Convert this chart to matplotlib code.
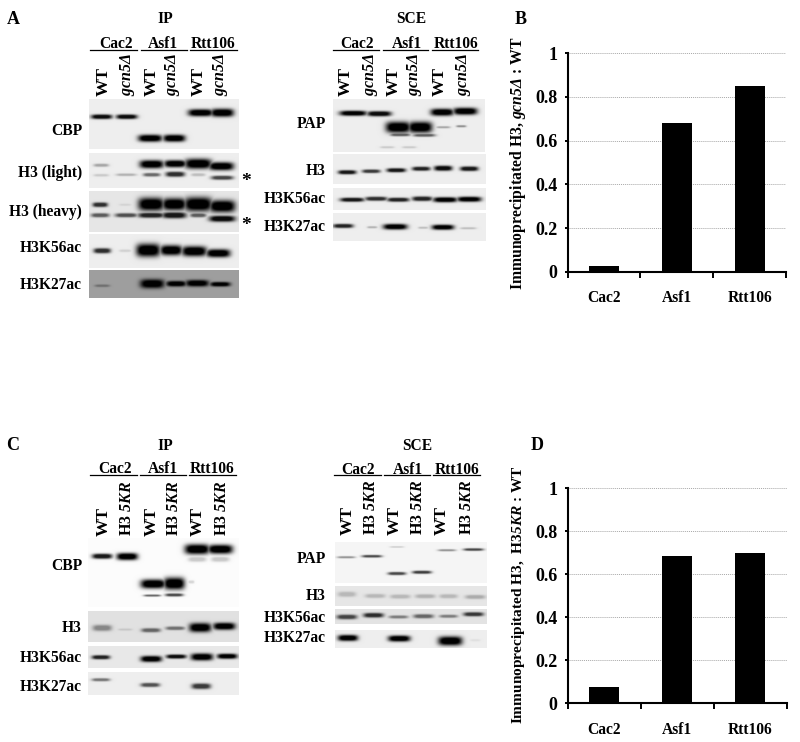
import numpy as np
import matplotlib
matplotlib.use("Agg")
import matplotlib.pyplot as plt

plt.rcParams["font.family"] = ["Liberation Serif", "DejaVu Serif"]
plt.rcParams["font.weight"] = "bold"
plt.rcParams["mathtext.fontset"] = "custom"
plt.rcParams["mathtext.rm"] = "Liberation Serif:bold"
plt.rcParams["mathtext.bfit"] = "Liberation Serif:italic:bold"
plt.rcParams["mathtext.default"] = "regular"

categories = ["Cac2", "Asf1", "Rtt106"]
ratio_gcn5 = [0.025, 0.68, 0.85]
ratio_5kr = [0.075, 0.685, 0.70]
y_ticks = [0, 0.2, 0.4, 0.6, 0.8, 1]
y_tick_labels = ["0", "0.2", "0.4", "0.6", "0.8", "1"]

# blots: (x, y, width, height, darkness) in image pixels
a_ip_cbp = [(101.5, 116.5, 21, 4.5, .95), (126.5, 116.5, 21, 4.5, .95), (150, 138, 24, 7, 1),
            (174, 138, 22, 7, 1), (200.5, 112.5, 25, 7, 1), (222, 112.5, 23, 8, 1)]
a_ip_light = [(101, 165, 15, 3, .3), (101, 175, 15, 2.5, .15), (126, 174.5, 20, 2.5, .25),
              (151.5, 164, 24, 8, 1), (151.5, 174.5, 17, 3.5, .55), (175, 163.5, 22, 7, 1),
              (175, 174, 19, 5, .8), (198, 163.5, 27, 10, 1), (198, 174.5, 14, 3, .2),
              (221, 166, 25, 8, 1), (222, 177.5, 22, 4, .7)]
a_ip_heavy = [(100, 204.5, 15, 4.5, .8), (100, 215, 18, 4, .6), (125, 204.5, 12, 2, .08),
              (126, 215, 22, 4, .65), (151, 204, 26, 13, 1), (151, 215, 26, 5, .85),
              (174, 204, 24, 12, 1), (174, 215, 24, 6, .9), (198, 204, 28, 14, 1),
              (198, 215, 16, 4, .6), (222, 206, 26, 12, 1), (222, 218.5, 26, 6, .95)]
a_ip_k56 = [(102, 250.5, 17, 5, .8), (125, 250.5, 12, 2.5, .12), (148, 250, 24, 13, 1),
            (171, 250, 22, 10, 1), (194, 251, 25, 10, 1), (218, 253, 24, 8, 1)]
a_ip_k27 = [(102, 285.5, 15, 2.5, .3), (152, 283.5, 24, 9, 1), (176, 283.5, 20, 5.5, 1),
            (197, 283, 23, 6.5, 1), (220, 284, 20, 4.5, 1)]

a_sce_pap = [(353, 113, 27, 5, 1), (379, 113.5, 24, 5, .95), (398, 127, 25, 11, 1), (420, 127, 24, 11, 1),
             (400, 134.5, 20, 3, .6), (424, 135, 22, 3, .6), (442, 112, 23, 7, 1), (465, 111, 24, 7, 1),
             (443, 127, 14, 2, .3), (461, 126, 10, 2, .4), (387, 147, 14, 2, .15), (409, 147, 14, 2, .15)]
a_sce_h3 = [(347, 172, 18, 4, .9), (371, 171, 18, 3.5, .75), (396, 170, 19, 4, .9),
            (421, 168.5, 18, 4, .85), (443, 168, 18, 5, .95), (469, 168.5, 18, 4.5, .9)]
a_sce_k56 = [(352, 199.5, 24, 4, .9), (376, 198.5, 22, 4, .8), (398, 199.5, 22, 4, .85),
             (422, 198.5, 20, 4.5, .85), (445, 199.5, 24, 5, 1), (469, 199, 24, 5, 1)]
a_sce_k27 = [(343, 225.7, 20, 4, .85), (372, 227, 10, 2, .25), (395, 226.5, 24, 5.5, 1),
             (423, 227.5, 10, 2, .2), (442.7, 227, 22, 5, 1), (468, 228, 16, 2, .2)]

c_ip_cbp = [(102, 556, 20, 5, .9), (127, 556.3, 21, 7, 1), (153, 583.7, 25, 9, 1), (174, 583.3, 21, 12, 1),
            (152, 595.3, 17, 2, .6), (174, 594.7, 18, 3, .7), (197, 549, 25, 10, 1), (220, 549, 25, 9, 1),
            (197, 559, 18, 5, .2), (220, 559, 18, 5, .2), (191, 581.7, 6, 3, .15)]
c_ip_h3 = [(102, 627.7, 19, 6, .4), (125, 629.3, 14, 2, .12), (150.7, 630, 19, 4, .55),
           (175, 628, 19, 3.5, .5), (200, 627.3, 22, 9, 1), (224, 626, 22, 7, 1)]
c_ip_k56 = [(100.7, 657, 18, 4, .85), (151, 658.7, 21, 6, 1), (176, 656.3, 20, 4, .95),
            (201.7, 656.7, 22, 7, 1), (227, 656, 20, 5, 1)]
c_ip_k27 = [(100.7, 679.5, 18, 3, .5), (150, 684.7, 19, 4, .65), (201, 686, 19, 5.5, .75)]

c_sce_pap = [(346, 557, 18, 2, .4), (371.7, 556, 20, 2.5, .7), (396.7, 573.3, 18, 3, .7),
             (421.7, 572, 19, 3, .75), (396.7, 546.7, 14, 1.2, .2), (446.7, 550, 18, 2, .4),
             (473.3, 549.3, 20, 2.5, .7)]
c_sce_h3 = [(346.7, 594, 18, 5, .2), (375, 595.7, 20, 4, .2), (400, 596.3, 20, 4, .2),
            (425, 596, 20, 4, .22), (448.3, 596, 18, 4, .2), (475, 596.7, 20, 4, .25)]
c_sce_k56 = [(346.7, 616.7, 20, 4.5, .7), (373.3, 615, 20, 4.5, .8), (398.3, 616.7, 19, 3, .45),
             (423.3, 616, 20, 4, .55), (448.3, 616, 18, 3, .45), (473.3, 614, 20, 4, .75)]
c_sce_k27 = [(347.7, 637.7, 20, 6, 1), (399, 638.3, 22, 6, 1), (450, 640.7, 24, 9, 1), (475, 640, 10, 2, .06)]

# panel box (x0, y0, x1, y1), background grey, bands
panels = [
    ((89, 99, 239, 149), .93, a_ip_cbp), ((89, 153, 239, 188), .93, a_ip_light),
    ((89, 191, 239, 232), .90, a_ip_heavy), ((89, 234, 239, 268), .93, a_ip_k56),
    ((89, 270, 239, 298), .62, a_ip_k27),
    ((333, 99, 485, 152), .93, a_sce_pap), ((333, 154, 486, 184), .93, a_sce_h3),
    ((333, 188, 486, 210), .93, a_sce_k56), ((333, 213, 486, 241), .93, a_sce_k27),
    ((88, 538, 239, 607), .985, c_ip_cbp), ((88, 611, 239, 642), .88, c_ip_h3),
    ((88, 646, 239, 668), .91, c_ip_k56), ((88, 672, 239, 695), .93, c_ip_k27),
    ((335, 542, 487, 583), .96, c_sce_pap), ((335, 586, 487, 606), .90, c_sce_h3),
    ((335, 609, 487, 624), .89, c_sce_k56), ((335, 630, 487, 648), .93, c_sce_k27),
]

row_labels = [
    (82, ["CBP", "H3 (light)", "H3 (heavy)", "H3K56ac", "H3K27ac"], [130.7, 172.7, 212.3, 248.3, 285]),
    (326, ["PAP", "H3", "H3K56ac", "H3K27ac"], [124, 171, 199.3, 226.7]),
    (82, ["CBP", "H3", "H3K56ac", "H3K27ac"], [566, 628.3, 658.3, 686.7]),
    (326, ["PAP", "H3", "H3K56ac", "H3K27ac"], [559.3, 596, 617.7, 638.3]),
]
# title, title x, title y, label y, line y, label x, line spans
group_headers = [
    ("IP", 165, 19, 44, 50, [115.7, 163.3, 213.3], [(90, 137.3), (140.7, 186.7), (190, 236.7)]),
    ("SCE", 411.7, 19, 44, 50, [357.3, 406.7, 455.7], [(332.7, 379.3), (382.7, 428.3), (431.7, 478.3)]),
    ("IP", 165, 446, 469.3, 475, [115, 163, 212], [(90, 136.7), (140, 186), (189.3, 235.7)]),
    ("SCE", 417, 446, 470, 475, [358, 408, 456.7], [(334, 380.7), (384, 430), (433.3, 480)]),
]
gcn5_label = r"$\mathbfit{gcn5\Delta}$"
kr_label = r"H3 $\mathbfit{5KR}$"
lane_labels = [
    (95.5, gcn5_label, [104, 127.7, 151.7, 172.7, 198.3, 220]),
    (95.5, gcn5_label, [346, 370, 393.3, 415, 440, 463.3]),
    (536, kr_label, [104, 127.3, 151.7, 174.3, 197.7, 222.3]),
    (535, kr_label, [347.3, 370.7, 395, 418.3, 441.7, 466.7]),
]
letters = [("A", 13, 20), ("B", 520.7, 20), ("C", 13, 446), ("D", 537, 446)]
stars = [(245.7, 182), (245.7, 225)]


def blot(ax, box, bg, bands):
    x0, y0, x1, y1 = box
    xs, ys = np.meshgrid(np.arange(x0, x1, 0.5), np.arange(y0, y1, 0.5))
    ink = np.zeros_like(xs, dtype=float)
    for cx, cy, w, h, d in bands:
        shape = np.exp(-np.abs((xs - cx) / (w / 2)) ** 4 - np.abs((ys - cy) / (h / 2)) ** 2.5)
        ink = np.maximum(ink, d * np.clip(1.25 * shape, 0, 1))
    ax.imshow(bg * (1 - ink), cmap="gray", vmin=0, vmax=1, extent=(x0, x1, y1, y0),
              aspect="auto", interpolation="bilinear")


def bar_panel(fig, box, values, ylabel, label_x, label_y, label_size):
    left, top, right, bottom = box
    ax = fig.add_axes([left / 800, 1 - bottom / 742, (right - left) / 800, (bottom - top) / 742])
    ax.bar([0.5, 1.5, 2.5], values, width=0.41, color="black")
    ax.set_xlim(0, 3)
    ax.set_ylim(0, 1)
    ax.set_yticks(y_ticks, y_tick_labels, fontsize=13)
    ax.set_xticks([0, 1, 2, 3], [])
    ax.set_xticks([0.5, 1.5, 2.5], categories, minor=True, fontsize=11.2)
    ax.tick_params(axis="x", which="minor", length=0, pad=13.5)
    ax.tick_params(axis="x", which="major", length=4, width=1.4)
    ax.tick_params(axis="y", length=2.5, width=1.4, pad=5)
    ax.grid(axis="y", color="#a8a8a8", linestyle=(0, (1, 1)), linewidth=0.7)
    ax.set_axisbelow(True)
    for side in ("top", "right"):
        ax.spines[side].set_visible(False)
    for side in ("left", "bottom"):
        ax.spines[side].set_linewidth(1.5)
    fig.text(label_x / 800, 1 - label_y / 742, ylabel, rotation=90, ha="center", va="center", fontsize=label_size)
    return ax


fig = plt.figure(figsize=(8, 7.42), dpi=100)
ax = fig.add_axes([0, 0, 1, 1])

for box, bg, bands in panels:
    blot(ax, box, bg, bands)

for x, names, ys in row_labels:
    for name, y in zip(names, ys):
        ax.text(x, y, name, ha="right", va="center", fontsize=11.2)

for title, tx, ty, ly, line_y, xs, spans in group_headers:
    ax.text(tx, ty, title, ha="center", va="center", fontsize=11.2)
    for name, x, (a, b) in zip(categories, xs, spans):
        ax.text(x, ly, name, ha="center", va="center", fontsize=11.2)
        ax.plot([a, b], [line_y, line_y], color="black", linewidth=0.9)

for bottom, mutant, xs in lane_labels:
    for i, x in enumerate(xs):
        if i % 2 == 0:
            ax.text(x, bottom, "WT", rotation=90, ha="center", va="bottom", fontsize=12.5)
        else:
            ax.text(x, bottom, mutant, rotation=90, ha="center", va="bottom", fontsize=11.5)

for name, x, y in letters:
    ax.text(x, y, name, ha="center", va="center", fontsize=13)
for x, y in stars:
    ax.text(x, y, "*", ha="center", va="center", fontsize=14)

ax.set_xlim(0, 800)
ax.set_ylim(742, 0)
ax.axis("off")

bar_panel(fig, (567.7, 53.3, 786, 271.7), ratio_gcn5,
          r"Immunoprecipitated H3, $\mathbfit{gcn5\Delta}$ : WT", 518.3, 163, 11.3)
bar_panel(fig, (567.7, 488.3, 786.7, 703.3), ratio_5kr,
          r"Immunoprecipitated H3,  H3$\mathbfit{5KR}$ : WT", 518.3, 595, 11.1)

fig.savefig("out.png", dpi=100)
